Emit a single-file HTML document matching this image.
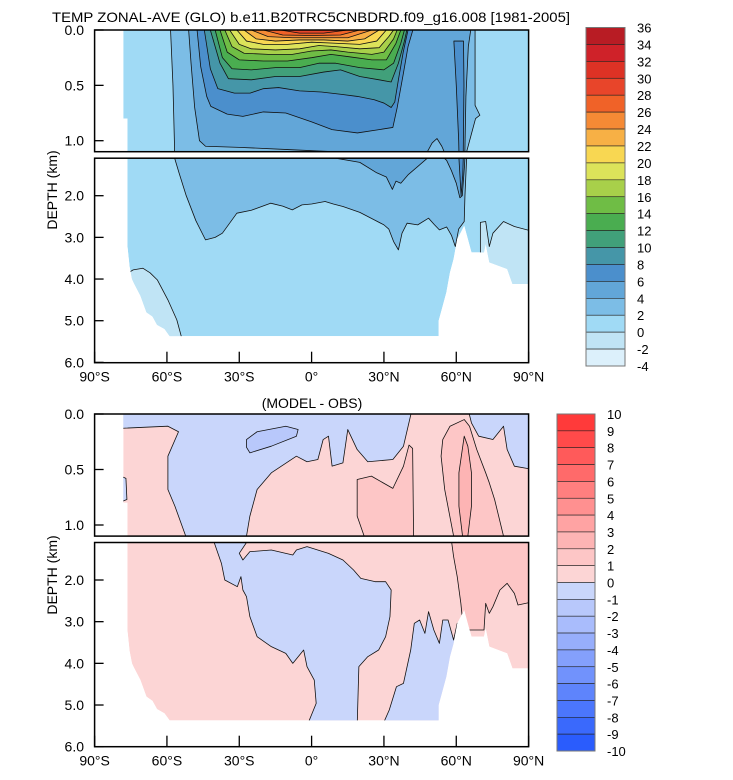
<!DOCTYPE html>
<html><head><meta charset="utf-8"><style>
html,body{margin:0;padding:0;background:#fff;overflow:hidden;width:733px;height:780px;}
svg{display:block;font-family:"Liberation Sans",Arial,sans-serif;}
</style></head><body>
<svg id="fig" xmlns="http://www.w3.org/2000/svg" width="733" height="780" viewBox="0 0 733 780">
<text x="52" y="22" font-size="14" textLength="518" lengthAdjust="spacingAndGlyphs">TEMP ZONAL-AVE (GLO) b.e11.B20TRC5CNBDRD.f09_g16.008 [1981-2005]</text>
<text x="312" y="408" font-size="14" text-anchor="middle">(MODEL - OBS)</text>
<text transform="translate(57,190) rotate(-90)" font-size="14" text-anchor="middle">DEPTH (km)</text>
<text transform="translate(57,575) rotate(-90)" font-size="14" text-anchor="middle">DEPTH (km)</text>
<defs id="defs"></defs>
</svg>
<script>
const latTicks=[-90,-60,-30,0,30,60,90];
const latLabels=['90°S','60°S','30°S','0°','30°N','60°N','90°N'];
const upperDepthTicks=[0,0.5,1.0];
const upperDepthLabels=['0.0','0.5','1.0'];
const lowerDepthTicks=[2,3,4,5,6];
const lowerDepthLabels=['2.0','3.0','4.0','5.0','6.0'];
const tempLevels=[36,34,32,30,28,26,24,22,20,18,16,14,12,10,8,6,4,2,0,-2,-4];
const tempColors=['#b81c24','#cf2229','#dd3225','#e8452a','#f06228','#f58a35','#f7b045','#f8d752','#dce35a','#a8d04a','#6fbd45','#4aad50','#41a07a','#4596a8','#4b8fcc','#62a6d8','#7cbde6','#a0daf5','#c0e4f5','#dcf0fb'];
const diffLevels=[10,9,8,7,6,5,4,3,2,1,0,-1,-2,-3,-4,-5,-6,-7,-8,-9,-10];
const diffColors=['#ff3a3a','#ff4a4a','#ff5a5a','#ff6a6a','#ff7f7f','#ff9090','#ffa3a3','#fdb4b4','#fdc6c6','#fcd5d5','#c9d6fb','#b8c8fb','#a9bcfc','#97aefc','#84a0fc','#7192fc','#5e84fc','#4b76fc','#3a69fc','#2a5cfd'];

const oceanMask=[[-78.1,0],[-78.1,0.8],[-76.4,0.8],[-76.4,3.2],[-75.5,3.7],[-74.5,4.0],[-73.7,4.1],[-71,4.4],[-68.5,4.8],[-66,4.9],[-64.1,5.1],[-61,5.2],[-58.9,5.37],[52.7,5.37],[52.7,5.0],[54.4,4.64],[55.9,4.32],[57.4,3.84],[58.9,3.52],[60.4,3.04],[61.9,2.88],[63.3,2.72],[64.8,3.04],[66.3,3.36],[71.5,3.36],[72.2,3.16],[73.7,3.6],[81.1,3.76],[83.3,4.12],[90,4.12],[90,0]];

const coldSouth=[[-92,3.8],[-76,3.85],[-74,3.78],[-70,3.74],[-67,3.85],[-64,4.02],[-59.6,4.5],[-55.9,4.98],[-53.7,5.45],[-92,5.6]];
const coldNorth=[[70,2.64],[72.2,2.62],[73.7,3.22],[75.2,2.9],[79.6,2.62],[84.1,2.74],[92,2.86],[92,6],[70,6]];
const iso2=[[-58.5,0],[-57.5,0.5],[-56.8,1.1],[-55,1.45],[-52,2.0],[-48,2.6],[-44,3.06],[-40,3.0],[-37,2.9],[-31,2.42],[-25,2.35],[-17,2.18],[-12,2.25],[-8,2.34],[-4,2.22],[0,2.2],[5.6,2.14],[9,2.2],[13,2.26],[20,2.4],[26,2.58],[30,2.7],[32,2.8],[34,3.1],[36,3.3],[37.5,2.9],[39.6,2.66],[44,2.7],[48.5,2.54],[51,2.7],[53,2.82],[56,2.75],[58,2.95],[59.6,3.22],[61,2.8],[63.3,2.62],[63.6,2.0],[64.3,1.1],[68,0.8],[69.8,0.77],[67.8,0.68],[67.8,0]];
const iso4=[[-51,0],[-50,0.3],[-48.5,0.7],[-46.5,1.0],[-44,1.05],[-30,1.06],[-10,1.08],[10,1.1],[20,1.2],[27,1.45],[31,1.55],[33.5,1.85],[35,1.65],[37,1.7],[40,1.5],[44,1.3],[48,1.1],[50,1.02],[52,0.98],[54,1.05],[56,1.15],[58,1.4],[60,1.7],[61.5,2.05],[62.5,2.0],[63.4,1.3],[64,0.6],[65,0.15],[66,0]];
const iso6=[[-47.5,0],[-46,0.33],[-43.5,0.6],[-41.8,0.69],[-35,0.76],[-28.5,0.78],[-20,0.74],[-10.7,0.75],[0,0.83],[8.5,0.9],[19,0.93],[28,0.9],[33.7,0.88],[35.5,0.7],[38,0.4],[40,0.15],[42,0]];
const iso6n=[[59,0.1],[60,0.5],[61,1.0],[61.5,1.5],[62,2.0],[62.7,1.5],[63.2,0.5],[63,0.1]];
const iso8=[[-44.5,0],[-42,0.35],[-38.9,0.53],[-32,0.57],[-25.5,0.57],[-20,0.53],[-13.7,0.52],[-5,0.55],[4,0.56],[12,0.58],[19,0.6],[26,0.63],[30,0.66],[33,0.7],[34.5,0.65],[36,0.45],[38,0.2],[40,0]];
const iso10=[[-42,0],[-38,0.3],[-34.5,0.44],[-25,0.45],[-15,0.42],[-5,0.42],[5,0.38],[12,0.36],[20,0.42],[28,0.45],[33,0.47],[36,0.3],[38.5,0.1],[39.5,0]];
const iso12=[[-40,0],[-37,0.25],[-33,0.35],[-25,0.36],[-15,0.34],[-5,0.34],[3,0.3],[10,0.3],[20,0.34],[30,0.36],[34,0.3],[37,0.12],[38.5,0]];
const iso14=[[-38,0],[-35,0.2],[-30,0.27],[-20,0.28],[-10,0.28],[0,0.25],[8,0.22],[15,0.24],[25,0.27],[31,0.27],[35,0.12],[37,0]];
const iso16=[[-36,0],[-33,0.15],[-28,0.21],[-18,0.22],[-8,0.22],[0,0.19],[8,0.18],[15,0.2],[25,0.22],[30,0.2],[34,0.08],[35.5,0]];
const iso18=[[-34,0],[-30,0.13],[-25,0.17],[-15,0.18],[-5,0.17],[3,0.14],[10,0.15],[20,0.17],[28,0.16],[32,0.06],[34,0]];
const iso20=[[-31,0],[-27,0.1],[-20,0.13],[-10,0.13],[0,0.11],[10,0.12],[20,0.13],[27,0.1],[31,0]];
const iso22=[[-28,0],[-23,0.08],[-15,0.1],[-5,0.09],[5,0.09],[15,0.1],[22,0.08],[28,0]];
const iso24=[[-25,0],[-18,0.06],[-8,0.07],[5,0.07],[15,0.07],[25,0]];
const iso26=[[-20,0],[-12,0.045],[0,0.05],[12,0.045],[20,0]];
const iso28=[[-13,0],[-5,0.028],[5,0.028],[15,0]];
const tempRegions=[[coldSouth,-2],[coldNorth,-2],[iso2,2],[iso4,4],[iso6,6],[iso6n,6],[iso8,8],[iso10,10],[iso12,12],[iso14,14],[iso16,16],[iso18,18],[iso20,20],[iso22,22],[iso24,24],[iso26,26],[iso28,28]];

const blueMain=[[-80,-0.05],[41.9,-0.05],[41.1,0.01],[38.1,0.29],[33.7,0.41],[23.3,0.43],[18.9,0.32],[15,0.14],[13,0.44],[8.5,0.47],[7,0.2],[4.8,0.23],[2.6,0.41],[-1.9,0.43],[-6.3,0.38],[-16.7,0.53],[-22.6,0.68],[-25.6,0.92],[-27,1.1],[-30,1.36],[-28.5,1.52],[-25.6,1.32],[-16.7,1.28],[-7.8,1.4],[-6.3,1.28],[-1.9,1.2],[7,1.36],[13,1.52],[17.4,1.76],[20.4,1.96],[26.3,2.04],[30.7,2.04],[33,2.24],[32.5,2.88],[30.7,3.36],[27.8,3.68],[23.3,3.84],[19.6,4.08],[18.9,5.5],[-1.9,5.5],[1.9,4.96],[1.1,4.4],[-1.9,4.08],[-3.3,3.68],[-7.8,4.0],[-10.7,3.76],[-16.7,3.6],[-22.6,3.36],[-25.6,2.88],[-27,2.4],[-28.5,2.24],[-29.3,1.92],[-30.8,2.16],[-36,2.0],[-37.4,1.6],[-40.4,1.1],[-52.2,1.1],[-56.7,0.83],[-59.6,0.68],[-59.6,0.38],[-55.2,0.16],[-59.6,0.11],[-80,0.13]];
const blueRight=[[29.3,5.5],[32.2,5.12],[35.2,4.56],[38.1,4.48],[41.1,3.68],[42.6,3.04],[44.8,2.96],[47,3.28],[48.5,2.76],[50.7,3.2],[53,3.52],[54.4,2.96],[56.6,2.96],[58.9,3.44],[60.4,3.04],[62,3.0],[62,6],[29.3,6]];
const blueNE=[[64.8,-0.05],[66.3,0.08],[69.3,0.2],[75.2,0.23],[79.6,0.11],[81.1,0.32],[84.1,0.47],[92,0.5],[92,-0.05]];
const blueEdge=[[-80,0.55],[-77,0.58],[-76.6,0.77],[-80,0.8]];
const blueDeep=[[-27,0.23],[-22.6,0.16],[-10.7,0.11],[-5.6,0.14],[-6.3,0.2],[-16.7,0.29],[-25.6,0.35],[-27,0.3]];
const pinkMid=[[18.9,0.59],[24.8,0.56],[33.7,0.67],[38.1,0.47],[40.4,0.28],[41.9,0.31],[42.3,1.1],[21.8,1.1],[18.9,0.92],[18.9,0.7]];
const pinkNEupper=[[54.4,0.23],[57.4,0.11],[63.3,0.05],[65.5,0.11],[68.5,0.32],[72.2,0.53],[73.7,0.62],[75.9,0.77],[79.6,1.1],[58.9,1.1],[55.2,0.68],[53.7,0.38]];
const pinkNElower=[[58.1,1.1],[92,1.1],[92,2.52],[85.6,2.6],[84.1,2.32],[81.1,2.08],[78.1,2.24],[75.2,2.64],[73.7,2.8],[72.2,2.56],[71.5,3.2],[63,3.2],[61.9,2.56],[60.4,1.92],[58.9,1.44]];
const pinkCore=[[61.1,0.53],[63.3,0.2],[64.8,0.29],[66.3,0.53],[66.3,0.83],[64.8,1.1],[62.6,1.1],[61.1,0.83]];
const diffRegions=[[blueMain,-1],[blueRight,-1],[blueNE,-1],[blueEdge,-1],[blueDeep,-2],[pinkMid,1],[pinkNEupper,1],[pinkNElower,1],[pinkCore,2]];

const NS='http://www.w3.org/2000/svg';
const svg=document.getElementById('fig');
const defs=document.getElementById('defs');
const X0=94.6,X1=528.6;
function xS(lat){return X0+(lat+90)/180*(X1-X0);}
function mk(tag,attrs,parent){const e=document.createElementNS(NS,tag);for(const k in attrs)e.setAttribute(k,attrs[k]);(parent||svg).appendChild(e);return e;}
function ptsStr(pts,yS){return pts.map(p=>xS(p[0]).toFixed(2)+','+yS(p[1]).toFixed(2)).join(' ');}
function colorFor(levels,colors,lev){const i=levels.indexOf(lev);return colors[i-1];}

function makePlot(id,panels,regions,levels,colors,baseLevel){
  panels.forEach((pn,pi)=>{
    const cid=id+'-clip-'+pi, mid=id+'-mask-'+pi;
    const cp=mk('clipPath',{id:cid},defs);
    mk('rect',{x:X0,y:pn.top,width:X1-X0,height:pn.bot-pn.top},cp);
    const mp=mk('clipPath',{id:mid},defs);
    mk('polygon',{points:ptsStr(oceanMask,pn.y)},mp);
    const g1=mk('g',{'clip-path':'url(#'+cid+')'});
    
    
    const g=mk('g',{'clip-path':'url(#'+mid+')'},g1);
    const base=mk('polygon',{points:ptsStr(oceanMask,pn.y),fill:colorFor(levels,colors,baseLevel)},g);
    
    
    regions.forEach((r,ri)=>{
      const lev=r[1];
      const c=colorFor(levels,colors,lev);
      const p=mk('polygon',{points:ptsStr(r[0],pn.y),fill:c,stroke:'#111','stroke-width':0.8,'stroke-linejoin':'round'},g);
      
      
    });
    const fr=mk('rect',{x:X0,y:pn.top,width:X1-X0,height:pn.bot-pn.top,fill:'none',stroke:'#000','stroke-width':1.5});
    
    
    pn.ticks.forEach((t,ti)=>{
      const yy=pn.y(t);
      const tk=mk('line',{x1:X0,x2:X0+9,y1:yy,y2:yy,stroke:'#000','stroke-width':1.3});
      
      
      const tl=mk('text',{x:84,y:yy+5,'font-size':14,'text-anchor':'end'});
      tl.textContent=pn.labels[ti];
      
      
    });
    if(pi===1){
      latTicks.forEach((lt,i)=>{
        const xx=xS(lt);
        const tk=mk('line',{x1:xx,x2:xx,y1:pn.bot,y2:pn.bot-11,stroke:'#000','stroke-width':1.3});
        
        
        const tl=mk('text',{x:xx,y:pn.bot+19,'font-size':14,'text-anchor':'middle'});
        tl.textContent=latLabels[i];
        
        
      });
    }
  });
}

makePlot('temp',[
  {name:'upper',top:30,bot:151.7,y:d=>30+d*110.7,ticks:upperDepthTicks,labels:upperDepthLabels},
  {name:'lower',top:158.2,bot:362.7,y:d=>195.7+(d-2)*41.67,ticks:lowerDepthTicks,labels:lowerDepthLabels}
],tempRegions,tempLevels,tempColors,0);
makePlot('diff',[
  {name:'upper',top:414,bot:536.1,y:d=>414+d*111,ticks:upperDepthTicks,labels:upperDepthLabels},
  {name:'lower',top:542.5,bot:746.7,y:d=>580+(d-2)*41.67,ticks:lowerDepthTicks,labels:lowerDepthLabels}
],diffRegions,diffLevels,diffColors,0);

function colorbar(name,levels,colors,x,y0,y1,w,lx){
  const h=(y1-y0)/colors.length;
  colors.forEach((c,i)=>{
    const r=mk('rect',{x:x,y:y0+i*h,width:w,height:h,fill:c,stroke:'#222','stroke-width':0.6});
    
    
  });
  const fr=mk('rect',{x:x,y:y0,width:w,height:y1-y0,fill:'none',stroke:'#777','stroke-width':1});
  
  
  levels.forEach((lv,i)=>{
    const t=mk('text',{x:lx,y:y0+i*h+5,'font-size':13});
    t.textContent=String(lv);
    
    
  });
}
colorbar('temp-colorbar',tempLevels,tempColors,586,27.5,366,39,637);
colorbar('diff-colorbar',diffLevels,diffColors,557,414,751,38,607);
</script>
</body></html>
